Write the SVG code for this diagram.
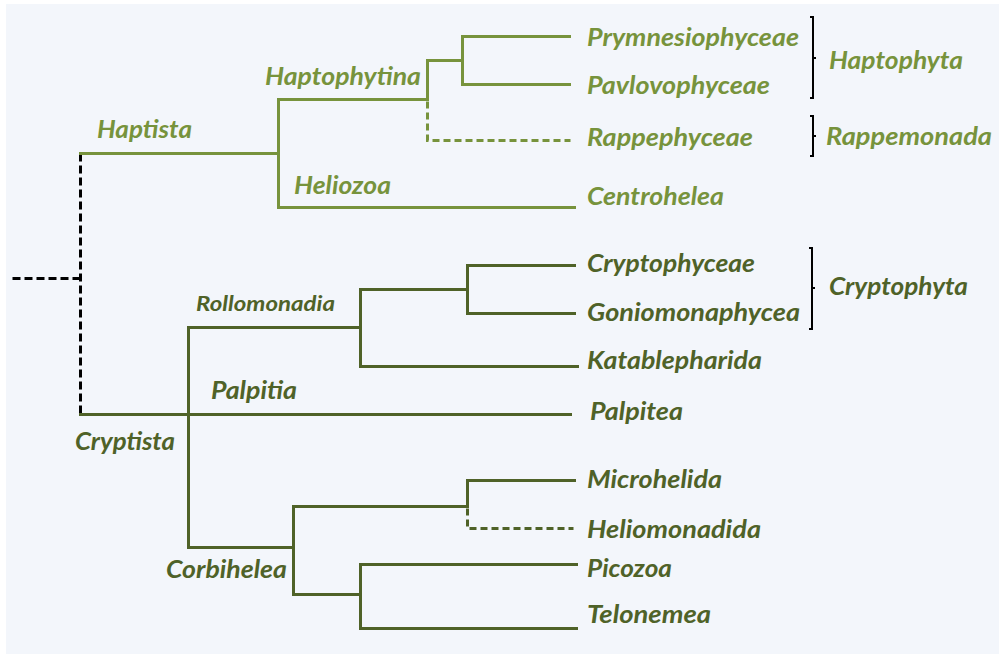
<svg xmlns="http://www.w3.org/2000/svg" width="999" height="654" viewBox="0 0 999 654">
<style>
.lg{stroke:#77933C;stroke-width:3;fill:none;stroke-linecap:square;stroke-linejoin:miter}
.dg{stroke:#4F6228;stroke-width:3;fill:none;stroke-linecap:square;stroke-linejoin:miter}
.dash{stroke-dasharray:7 4;stroke-linecap:butt}
.root{stroke:#000;stroke-width:3;fill:none;stroke-dasharray:8 4}
.br{stroke:#000;stroke-width:2;fill:none}
text{font-family:Lato,"Open Sans","Liberation Sans",sans-serif;font-weight:bold;font-style:italic;font-size:25px}
.tl{fill:#77933C}
.td{fill:#4F6228}
.sm{font-size:21px}
</style>
<rect x="0" y="0" width="999" height="654" fill="#ffffff"/>
<rect x="6" y="4" width="993" height="650" fill="#F3F6FB"/>
<g id="connectors" transform="translate(0.5,0.5)">
  <path class="root" d="M12,278 H80"/>
  <path class="root" d="M80,153 V414"/>
  <path class="lg" d="M80,153 H278"/>
  <path class="lg" d="M278,99 V207"/>
  <path class="lg" d="M278,99 H427 V60"/>
  <path class="lg" d="M427,60 H462"/>
  <path class="lg" d="M462,36 V84"/>
  <path class="lg" d="M462,36 H569"/>
  <path class="lg" d="M462,84 H569"/>
  <path class="lg dash" d="M427,101 V140 H570"/>
  <path class="lg" d="M278,207 H574"/>
  <path class="dg" d="M80,414 H570"/>
  <path class="dg" d="M188,327 V547"/>
  <path class="dg" d="M188,327 H360"/>
  <path class="dg" d="M360,289 V366"/>
  <path class="dg" d="M360,289 H467"/>
  <path class="dg" d="M467,265 V313"/>
  <path class="dg" d="M467,265 H574"/>
  <path class="dg" d="M467,313 H574"/>
  <path class="dg" d="M360,366 H577"/>
  <path class="dg" d="M188,547 H293"/>
  <path class="dg" d="M293,506 V594"/>
  <path class="dg" d="M293,506 H467"/>
  <path class="dg" d="M467,480 V506"/>
  <path class="dg" d="M467,480 H574"/>
  <path class="dg dash" d="M467,508 V528 H573"/>
  <path class="dg" d="M293,594 H360"/>
  <path class="dg" d="M360,564 V628"/>
  <path class="dg" d="M360,564 H576"/>
  <path class="dg" d="M360,628 H576"/>
</g>
<g id="brackets">
  <path class="br" d="M810,17 H813 V98 H810 M813,58 H816"/>
  <path class="br" d="M810,116 H813 V156 H810 M813,136 H816"/>
  <path class="br" d="M809,248 H812 V329 H809 M812,288 H815"/>
</g>
<g id="n-haptista"><text class="tl" x="97" y="138" textLength="95" lengthAdjust="spacingAndGlyphs">Haptista</text></g>
<g id="n-haptophytina"><text class="tl" x="265" y="85" textLength="156" lengthAdjust="spacingAndGlyphs">Haptophytina</text></g>
<g id="n-heliozoa"><text class="tl" x="294" y="194" textLength="97" lengthAdjust="spacingAndGlyphs">Heliozoa</text></g>
<g id="n-prymnesiophyceae"><text class="tl" x="587" y="46" textLength="212" lengthAdjust="spacingAndGlyphs">Prymnesiophyceae</text></g>
<g id="n-pavlovophyceae"><text class="tl" x="587" y="94" textLength="183" lengthAdjust="spacingAndGlyphs">Pavlovophyceae</text></g>
<g id="n-rappephyceae"><text class="tl" x="587" y="146" textLength="166" lengthAdjust="spacingAndGlyphs">Rappephyceae</text></g>
<g id="n-centrohelea"><text class="tl" x="587" y="205" textLength="137" lengthAdjust="spacingAndGlyphs">Centrohelea</text></g>
<g id="n-haptophyta"><text class="tl" x="829" y="69" textLength="134" lengthAdjust="spacingAndGlyphs">Haptophyta</text></g>
<g id="n-rappemonada"><text class="tl" x="826" y="145" textLength="166" lengthAdjust="spacingAndGlyphs">Rappemonada</text></g>
<g id="n-rollomonadia"><text class="td sm" x="196" y="311" textLength="139" lengthAdjust="spacingAndGlyphs">Rollomonadia</text></g>
<g id="n-palpitia"><text class="td" x="211" y="399" textLength="86" lengthAdjust="spacingAndGlyphs">Palpitia</text></g>
<g id="n-cryptista"><text class="td" x="75" y="450" textLength="100" lengthAdjust="spacingAndGlyphs">Cryptista</text></g>
<g id="n-corbihelea"><text class="td" x="166" y="578" textLength="121" lengthAdjust="spacingAndGlyphs">Corbihelea</text></g>
<g id="n-cryptophyceae"><text class="td" x="587" y="272" textLength="168" lengthAdjust="spacingAndGlyphs">Cryptophyceae</text></g>
<g id="n-goniomonaphycea"><text class="td" x="587" y="321" textLength="213" lengthAdjust="spacingAndGlyphs">Goniomonaphycea</text></g>
<g id="n-katablepharida"><text class="td" x="587" y="369" textLength="175" lengthAdjust="spacingAndGlyphs">Katablepharida</text></g>
<g id="n-palpitea"><text class="td" x="590" y="420" textLength="93" lengthAdjust="spacingAndGlyphs">Palpitea</text></g>
<g id="n-cryptophyta"><text class="td" x="829" y="295" textLength="139" lengthAdjust="spacingAndGlyphs">Cryptophyta</text></g>
<g id="n-microhelida"><text class="td" x="587" y="488" textLength="135" lengthAdjust="spacingAndGlyphs">Microhelida</text></g>
<g id="n-heliomonadida"><text class="td" x="587" y="538" textLength="174" lengthAdjust="spacingAndGlyphs">Heliomonadida</text></g>
<g id="n-picozoa"><text class="td" x="587" y="577" textLength="85" lengthAdjust="spacingAndGlyphs">Picozoa</text></g>
<g id="n-telonemea"><text class="td" x="587" y="623" textLength="124" lengthAdjust="spacingAndGlyphs">Telonemea</text></g>
</svg>
